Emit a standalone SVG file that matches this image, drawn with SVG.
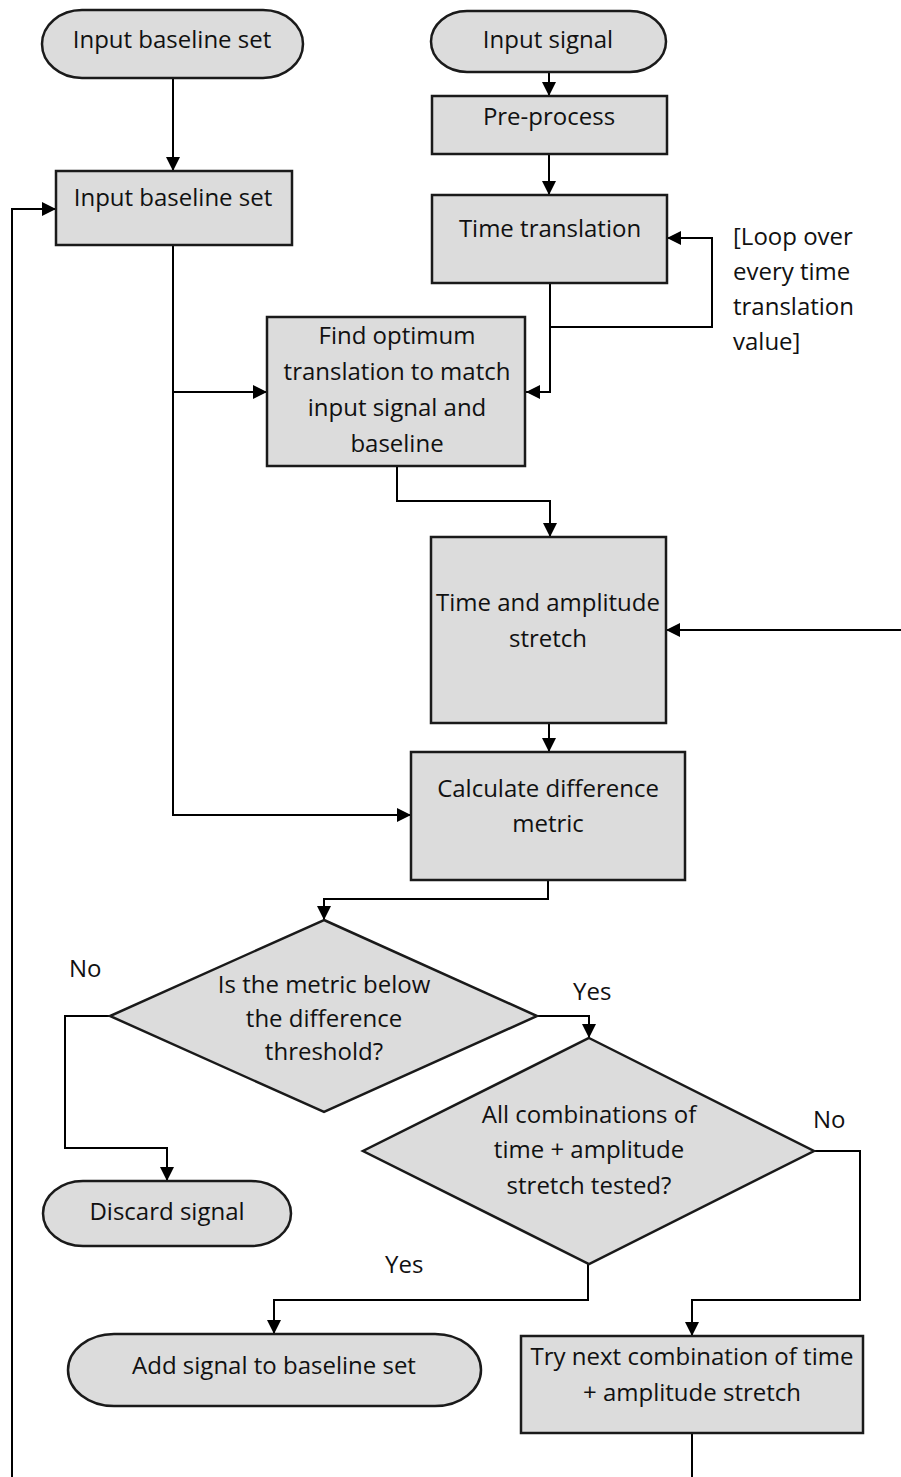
<svg xmlns="http://www.w3.org/2000/svg" width="901" height="1477" viewBox="0 0 901 1477">
<defs>
<marker id="ah" markerWidth="14" markerHeight="14" refX="14" refY="7" orient="auto" markerUnits="userSpaceOnUse">
<path d="M0,0 L14,7 L0,14 z" fill="#000"/>
</marker>
<style>
.shape{fill:#dcdcdc;stroke:#1a1a1a;stroke-width:2.5}
.t{font-family:"Open Sans","Liberation Sans",sans-serif;font-size:24px;fill:#111;text-anchor:middle}
.l{font-family:"Open Sans","Liberation Sans",sans-serif;font-size:24px;fill:#111}
.c{fill:none;stroke:#000;stroke-width:2}
.a{marker-end:url(#ah)}
</style>
</defs>
<rect width="901" height="1477" fill="#fff"/>

<g id="connectors">
<path class="c a" d="M173 78 V171"/>
<path class="c a" d="M549 72 V96"/>
<path class="c a" d="M549 154 V195"/>
<path class="c a" d="M550 283 V392 H526"/>
<path class="c a" d="M550 327 H712 V238 H667"/>
<path class="c a" d="M173 245 V815 H411"/>
<path class="c a" d="M173 392 H267"/>
<path class="c a" d="M397 466 V501 H550 V537"/>
<path class="c a" d="M901 630 H666"/>
<path class="c a" d="M549 723 V752"/>
<path class="c a" d="M548 880 V899 H324 V920"/>
<path class="c a" d="M537 1016 H589 V1038"/>
<path class="c a" d="M110 1016 H65 V1148 H167 V1181"/>
<path class="c a" d="M814 1151 H860 V1300 H692 V1336"/>
<path class="c a" d="M588 1264 V1300 H274 V1334"/>
<path class="c" d="M692 1433 V1477"/>
<path class="c a" d="M12 1477 V209 H56"/>
</g>

<g id="n_start_baseline">
<rect class="shape" x="42" y="10" width="261" height="68" rx="40" ry="34"/>
<text class="t" x="172" y="48">Input baseline set</text>
</g>
<g id="n_start_signal">
<rect class="shape" x="431" y="11" width="235" height="61" rx="36" ry="30.5"/>
<text class="t" x="548" y="48">Input signal</text>
</g>
<g id="n_preprocess">
<rect class="shape" x="432" y="96" width="235" height="58"/>
<text class="t" x="549" y="125">Pre-process</text>
</g>
<g id="n_baseline_box">
<rect class="shape" x="56" y="171" width="236" height="74"/>
<text class="t" x="173" y="206">Input baseline set</text>
</g>
<g id="n_time_translation">
<rect class="shape" x="432" y="195" width="235" height="88"/>
<text class="t" x="550" y="237">Time translation</text>
</g>
<g id="n_loop_label">
<text class="l" x="733" y="245">[Loop over</text>
<text class="l" x="733" y="280">every time</text>
<text class="l" x="733" y="315">translation</text>
<text class="l" x="733" y="350">value]</text>
</g>
<g id="n_find_optimum">
<rect class="shape" x="267" y="317" width="258" height="149"/>
<text class="t" x="397" y="344">Find optimum</text>
<text class="t" x="397" y="380">translation to match</text>
<text class="t" x="397" y="416">input signal and</text>
<text class="t" x="397" y="452">baseline</text>
</g>
<g id="n_stretch">
<rect class="shape" x="431" y="537" width="235" height="186"/>
<text class="t" x="548" y="611">Time and amplitude</text>
<text class="t" x="548" y="647">stretch</text>
</g>
<g id="n_calculate">
<rect class="shape" x="411" y="752" width="274" height="128"/>
<text class="t" x="548" y="797">Calculate difference</text>
<text class="t" x="548" y="832">metric</text>
</g>
<g id="n_threshold">
<polygon class="shape" points="324,920 537,1016 324,1112 110,1016"/>
<text class="t" x="324" y="993">Is the metric below</text>
<text class="t" x="324" y="1027">the difference</text>
<text class="t" x="324" y="1060">threshold?</text>
</g>
<g id="n_all_tested">
<polygon class="shape" points="589,1038 814,1151 589,1264 363,1151"/>
<text class="t" x="589" y="1123">All combinations of</text>
<text class="t" x="589" y="1158">time + amplitude</text>
<text class="t" x="589" y="1194">stretch tested?</text>
</g>
<g id="n_discard">
<rect class="shape" x="43" y="1181" width="248" height="65" rx="40" ry="32.5"/>
<text class="t" x="167" y="1220">Discard signal</text>
</g>
<g id="n_add">
<rect class="shape" x="68" y="1334" width="413" height="72" rx="46" ry="36"/>
<text class="t" x="274" y="1374">Add signal to baseline set</text>
</g>
<g id="n_try_next">
<rect class="shape" x="521" y="1336" width="342" height="97"/>
<text class="t" x="692" y="1365">Try next combination of time</text>
<text class="t" x="692" y="1401">+ amplitude stretch</text>
</g>
<g id="labels">
<text class="l" x="69" y="977">No</text>
<text class="l" x="573" y="1000">Yes</text>
<text class="l" x="813" y="1128">No</text>
<text class="l" x="385" y="1273">Yes</text>
</g>
</svg>
